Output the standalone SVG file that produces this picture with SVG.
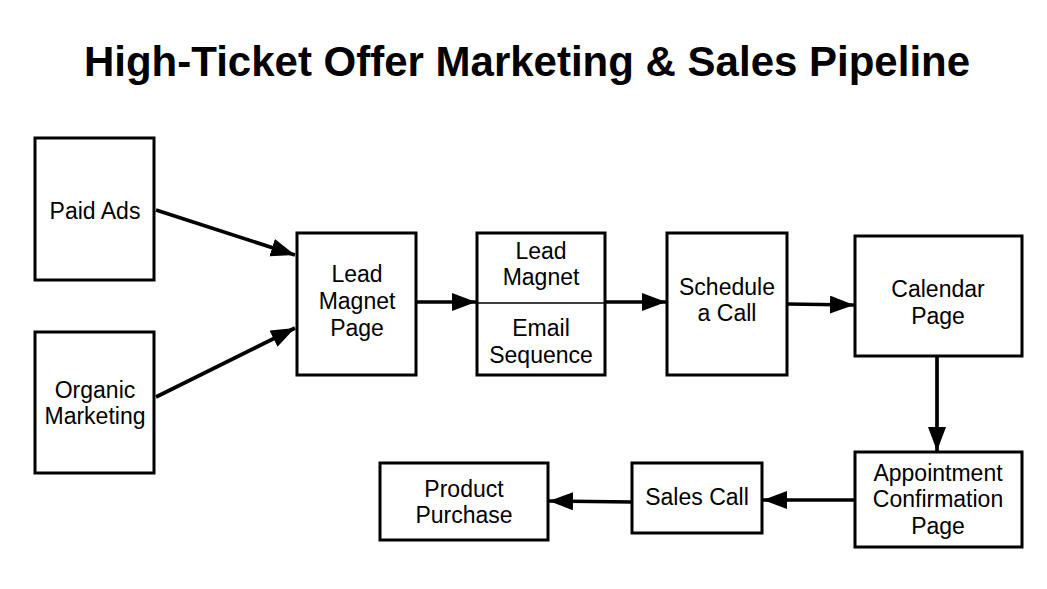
<svg xmlns="http://www.w3.org/2000/svg" width="1047" height="589" viewBox="0 0 1047 589">
<defs>
<style>
.box{fill:#fff;stroke:#000;stroke-width:3}
.t{font-family:"Liberation Sans",Arial,sans-serif;font-size:23px;fill:#000;text-anchor:middle}
.title{font-family:"Liberation Sans",Arial,sans-serif;font-size:42px;font-weight:bold;fill:#000;text-anchor:middle}
.c{fill:none;stroke:#000;stroke-width:3.7}
</style>
<marker id="ah" markerUnits="userSpaceOnUse" markerWidth="26" markerHeight="20" refX="24" refY="9" orient="auto">
<path d="M0,0 L24,9 L0,18 z" fill="#000"/>
</marker>
</defs>
<rect width="1047" height="589" fill="#fff"/>
<text class="title" x="527" y="76">High-Ticket Offer Marketing &amp; Sales Pipeline</text>
<g id="connectors">
<line class="c" x1="156" y1="210" x2="295" y2="255" marker-end="url(#ah)"/>
<line class="c" x1="156" y1="397" x2="295" y2="328" marker-end="url(#ah)"/>
<line class="c" x1="416" y1="302" x2="476" y2="302" marker-end="url(#ah)"/>
<line class="c" x1="605" y1="302" x2="666" y2="302" marker-end="url(#ah)"/>
<line class="c" x1="787" y1="304" x2="854" y2="305" marker-end="url(#ah)"/>
<line class="c" x1="937" y1="356" x2="937" y2="451" marker-end="url(#ah)"/>
<line class="c" x1="855" y1="500" x2="763" y2="500" marker-end="url(#ah)"/>
<line class="c" x1="632" y1="502" x2="549" y2="501" marker-end="url(#ah)"/>
</g>
<g id="paid-ads"><rect class="box" x="35" y="138" width="119" height="142"/><text class="t" x="95" y="219">Paid Ads</text></g>
<g id="organic-marketing"><rect class="box" x="35" y="332" width="119" height="141"/><text class="t" x="95" y="398">Organic</text><text class="t" x="95" y="424">Marketing</text></g>
<g id="lead-magnet-page"><rect class="box" x="297" y="233" width="119" height="142"/><text class="t" x="357" y="282">Lead</text><text class="t" x="357" y="309">Magnet</text><text class="t" x="357" y="336">Page</text></g>
<g id="lead-magnet-email"><rect class="box" x="477" y="233" width="128" height="142"/><line x1="477" y1="303" x2="605" y2="303" stroke="#000" stroke-width="1.5"/><text class="t" x="541" y="259">Lead</text><text class="t" x="541" y="285">Magnet</text><text class="t" x="541" y="336">Email</text><text class="t" x="541" y="363">Sequence</text></g>
<g id="schedule-call"><rect class="box" x="667" y="233" width="120" height="142"/><text class="t" x="727" y="295">Schedule</text><text class="t" x="727" y="321">a Call</text></g>
<g id="calendar-page"><rect class="box" x="855" y="236" width="167" height="120"/><text class="t" x="938" y="297">Calendar</text><text class="t" x="938" y="324">Page</text></g>
<g id="appointment-confirmation"><rect class="box" x="855" y="452" width="167" height="95"/><text class="t" x="938" y="481">Appointment</text><text class="t" x="938" y="507">Confirmation</text><text class="t" x="938" y="534">Page</text></g>
<g id="sales-call"><rect class="box" x="632" y="463" width="130" height="70"/><text class="t" x="697" y="505">Sales Call</text></g>
<g id="product-purchase"><rect class="box" x="380" y="463" width="168" height="77"/><text class="t" x="464" y="497">Product</text><text class="t" x="464" y="523">Purchase</text></g>
</svg>
